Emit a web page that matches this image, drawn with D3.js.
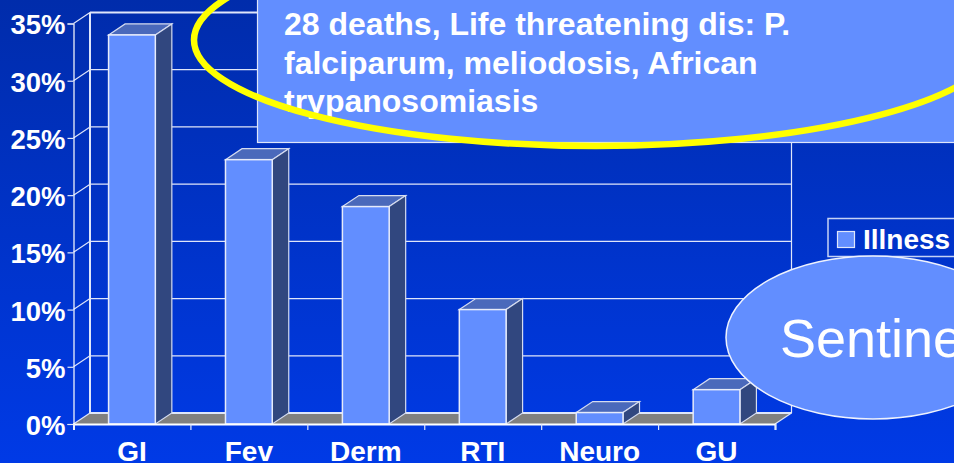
<!DOCTYPE html>
<html>
<head>
<meta charset="utf-8">
<script src="https://cdn.jsdelivr.net/npm/d3@7"></script>
<style>
  html, body { margin: 0; padding: 0; background: #0038e0; overflow: hidden; }
  text { font-family: "Liberation Sans", Arial, sans-serif; fill: #fff; }
</style>
</head>
<body>
<div id="chart"></div>
<script>
// Chart data
const categories = ["GI", "Fev", "Derm", "RTI", "Neuro", "GU"];
const illness = [34, 23.1, 19, 10, 1, 3];
const yTicks = [0, 5, 10, 15, 20, 25, 30, 35];
const legendLabels = ["Illness"];
const calloutLines = [
  "28 deaths, Life threatening dis: P.",
  "falciparum, meliodosis, African",
  "trypanosomiasis"
];
const bubbleLabel = "Sentinel";

const width = 954,
      height = 463;

const svg = d3.select("#chart")
  .append("svg")
    .attr("width", width)
    .attr("height", height)
    .style("display", "block");

const defs = svg.append("defs");

// Background gradient
const grad = defs.append("linearGradient")
    .attr("id", "bg")
    .attr("x1", 0).attr("y1", 0).attr("x2", 0).attr("y2", 1);
grad.append("stop").attr("offset", "0%").attr("stop-color", "#002cab");
grad.append("stop").attr("offset", "100%").attr("stop-color", "#003ae6");

// Soft edge for the yellow ring
defs.append("filter")
    .attr("id", "soft")
    .append("feGaussianBlur")
    .attr("stdDeviation", 0.6);

svg.append("rect")
    .attr("width", width)
    .attr("height", height)
    .attr("fill", "url(#bg)");

// Scales
const x = d3.scaleBand()
    .domain(categories)
    .range([73.5, 775])
    .paddingInner(0.6)
    .paddingOuter(0.3);

const xEdges = d3.scaleLinear()
    .domain([0, categories.length])
    .range([73.5, 775]);

const y = d3.scaleLinear()
    .domain([0, 35])
    .range([424, 23.5]);

// 3D offset of the back wall
const depthX = 16.5,
      depthY = -11;

const wall = svg.append("g");

// Floor
wall.append("path")
    .attr("d", d3.line()([
      [x.range()[0], y(0)],
      [x.range()[0] + depthX, y(0) + depthY],
      [x.range()[1] + depthX, y(0) + depthY],
      [x.range()[1], y(0)]
    ]) + "Z")
    .attr("fill", "#808080");

// Back wall gridlines
wall.selectAll("line.grid")
  .data(yTicks)
  .join("line")
    .attr("class", "grid")
    .attr("x1", x.range()[0] + depthX)
    .attr("x2", x.range()[1] + depthX)
    .attr("y1", d => y(d) + depthY)
    .attr("y2", d => y(d) + depthY)
    .attr("stroke", "#dfe6fa")
    .attr("stroke-width", d => d === 0 || d === 35 ? 2 : 1.2);

// Side wall diagonals
wall.selectAll("line.diag")
  .data(yTicks)
  .join("line")
    .attr("class", "diag")
    .attr("x1", x.range()[0])
    .attr("x2", x.range()[0] + depthX)
    .attr("y1", d => y(d))
    .attr("y2", d => y(d) + depthY)
    .attr("stroke", "#dfe6fa")
    .attr("stroke-width", 1.2);

// Back wall verticals
wall.selectAll("line.vert")
  .data([x.range()[0] + depthX, x.range()[1] + depthX])
  .join("line")
    .attr("class", "vert")
    .attr("x1", d => d)
    .attr("x2", d => d)
    .attr("y1", y(35) + depthY)
    .attr("y2", y(0) + depthY)
    .attr("stroke", "#dfe6fa")
    .attr("stroke-width", (d, i) => i === 0 ? 2 : 1.2);

// Floor right edge
wall.append("line")
    .attr("x1", x.range()[1])
    .attr("x2", x.range()[1] + depthX)
    .attr("y1", y(0))
    .attr("y2", y(0) + depthY)
    .attr("stroke", "#dfe6fa")
    .attr("stroke-width", 1.2);

// Bars
const bars = svg.append("g")
  .selectAll("g")
  .data(illness)
  .join("g");

const barX = (d, i) => x(categories[i]);

bars.append("path")
    .attr("d", (d, i) => d3.line()([
      [barX(d, i), y(d)],
      [barX(d, i) + depthX, y(d) + depthY],
      [barX(d, i) + x.bandwidth() + depthX, y(d) + depthY],
      [barX(d, i) + x.bandwidth(), y(d)]
    ]) + "Z")
    .attr("fill", "#4a69bb")
    .attr("stroke", "#d5dcf0")
    .attr("stroke-width", 1.2);

bars.append("path")
    .attr("d", (d, i) => d3.line()([
      [barX(d, i) + x.bandwidth(), y(d)],
      [barX(d, i) + x.bandwidth() + depthX, y(d) + depthY],
      [barX(d, i) + x.bandwidth() + depthX, y(0) + depthY],
      [barX(d, i) + x.bandwidth(), y(0)]
    ]) + "Z")
    .attr("fill", "#31477f")
    .attr("stroke", "#d5dcf0")
    .attr("stroke-width", 1.2);

bars.append("rect")
    .attr("x", barX)
    .attr("y", d => y(d))
    .attr("width", x.bandwidth())
    .attr("height", d => y(0) - y(d))
    .attr("fill", "#628eff")
    .attr("stroke", "#e6ebfa")
    .attr("stroke-width", 1.5);

// Axes
const yAxis = svg.append("g")
    .attr("transform", `translate(${x.range()[0]},0)`)
    .call(d3.axisLeft(y)
      .tickValues(yTicks)
      .tickSize(6)
      .tickPadding(2)
      .tickFormat(d => d + "%"));

yAxis.selectAll("line").attr("stroke", "#dfe6fa").attr("stroke-width", 1.2);
yAxis.select(".domain").attr("stroke", "#fff").attr("stroke-width", 1.2);
yAxis.selectAll("text")
    .attr("dy", "0.38em")
    .style("font-size", "27.5px")
    .style("font-weight", "bold")
    .style("font-family", "Liberation Sans")
    .style("fill", "#fff");

const xTickAxis = svg.append("g")
    .attr("transform", `translate(0,${y(0)})`)
    .call(d3.axisBottom(xEdges)
      .ticks(categories.length)
      .tickSize(6)
      .tickSizeOuter(6)
      .tickFormat(""));

xTickAxis.selectAll("line").attr("stroke", "#dfe6fa").attr("stroke-width", 1.2);
xTickAxis.select(".domain").attr("stroke", "#fff").attr("stroke-width", 2);

const xLabels = svg.append("g")
    .attr("transform", `translate(0,${y(0)})`)
    .call(d3.axisBottom(x).tickSize(0).tickPadding(17.5));

xLabels.select(".domain").remove();
xLabels.selectAll("text")
    .style("font-size", "28px")
    .style("font-weight", "bold")
    .style("font-family", "Liberation Sans")
    .style("fill", "#fff");

// Legend
const legend = svg.append("g");

legend.append("rect")
    .attr("x", 828)
    .attr("y", 218.5)
    .attr("width", 140)
    .attr("height", 38)
    .attr("fill", "none")
    .attr("stroke", "#c5d2f5")
    .attr("stroke-width", 1.5);

legend.append("rect")
    .attr("x", 837.5)
    .attr("y", 231.5)
    .attr("width", 17)
    .attr("height", 16)
    .attr("fill", "#628eff")
    .attr("stroke", "#dfe6fa")
    .attr("stroke-width", 1.2);

legend.selectAll("text")
  .data(legendLabels)
  .join("text")
    .attr("x", 863)
    .attr("y", 249)
    .style("font-size", "28px")
    .style("font-weight", "bold")
    .text(d => d);

// Callout box
svg.append("rect")
    .attr("x", 257.5)
    .attr("y", -10)
    .attr("width", 760)
    .attr("height", 152.5)
    .attr("fill", "#628eff")
    .attr("stroke", "#dfe6fa")
    .attr("stroke-width", 1.2);

svg.append("g")
  .selectAll("text")
  .data(calloutLines)
  .join("text")
    .attr("x", 284)
    .attr("y", (d, i) => 35 + i * 38.5)
    .style("font-size", "32px")
    .style("font-weight", "bold")
    .text(d => d);

// Yellow highlight ellipse
svg.append("ellipse")
    .attr("cx", 596)
    .attr("cy", 40)
    .attr("rx", 402)
    .attr("ry", 106)
    .attr("fill", "none")
    .attr("stroke", "#ffff00")
    .attr("stroke-width", 6.5)
    .attr("filter", "url(#soft)");

// Sentinel bubble
svg.append("ellipse")
    .attr("cx", 873)
    .attr("cy", 337.5)
    .attr("rx", 147)
    .attr("ry", 81.5)
    .attr("fill", "#628eff")
    .attr("stroke", "#eef2fd")
    .attr("stroke-width", 1.5);

svg.append("text")
    .attr("x", 780)
    .attr("y", 357)
    .style("font-size", "54px")
    .text(bubbleLabel);
</script>
</body>
</html>
